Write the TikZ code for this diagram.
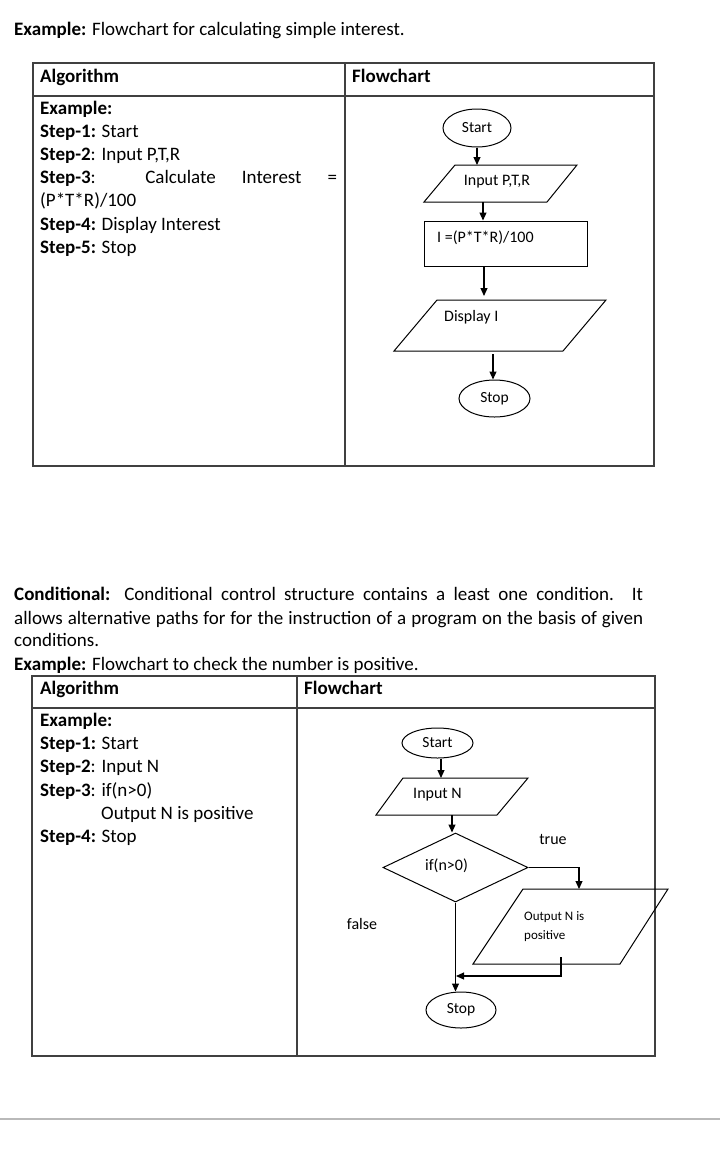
\documentclass[tikz,border=0pt]{standalone}
\usepackage{fontspec}
\setmainfont{Carlito}
\usetikzlibrary{arrows.meta,shapes.geometric}
\begin{document}
\begin{tikzpicture}[x=1pt,y=-1pt,
  body/.style={anchor=base west,inner sep=0pt,font=\fontsize{19}{23}\selectfont},
  fc/.style={inner sep=0pt,font=\fontsize{16}{18}\selectfont},
  shp/.style={draw,line width=1pt},
  oval/.style={shp,ellipse,inner sep=0pt,font=\fontsize{15.5}{18}\selectfont},
  arr/.style={-{Triangle[length=8pt,width=7pt]},line width=1.1pt},
  tbl/.style={draw=black!75,line width=1.2pt}]
\useasboundingbox (0,0) rectangle (720,1152);
\fill[white] (0,0) rectangle (720,1152);

% ---------- title ----------
\node[body] (t1) at (14,35) {\textbf{Example:} Flowchart for calculating simple interest.};

% ---------- top table ----------
\draw[tbl] (33,63) rectangle (654,466);
\draw[tbl] (33,96) -- (654,96);
\draw[tbl] (345,63) -- (345,466);
\node[body] (h1) at (40,82) {\textbf{Algorithm}};
\node[body] (h2) at (352,82) {\textbf{Flowchart}};
\node[body] (a0) at (40,114.5) {\textbf{Example:}};
\node[body] (a1) at (40,137.6) {\textbf{Step-1:} Start};
\node[body] (a2) at (40,160.7) {\textbf{Step-2}: Input P,T,R};
\node[body] (a3) at (40,183.8) {\makebox[297pt][s]{\textbf{Step-3}: Calculate Interest =}};
\node[body] (a3b) at (40,206.9) {(P*T*R)/100};
\node[body] (a4) at (40,230) {\textbf{Step-4:} Display Interest};
\node[body] (a5) at (40,253.1) {\textbf{Step-5:} Stop};

% top flowchart
\node[oval,minimum width=68pt,minimum height=38pt] (s1) at (477,128) {Start};
\draw[shp] (455,165) -- (577,165) -- (547,202) -- (424,202) -- cycle;
\coordinate (in1n) at (477,165);
\coordinate (in1s) at (483,202);
\node[fc] (in1t) at (497,182) {Input P,T,R};
\node[shp,minimum width=163pt,minimum height=45pt,inner sep=0pt] (r1) at (505.5,243.5) {};
\node[fc,anchor=west] (r1t) at (437,238) {I =(P*T*R)/100};
\draw[shp] (437,300) -- (606,300) -- (563,351) -- (394,351) -- cycle;
\coordinate (d1n) at (484,296);
\coordinate (d1s) at (493,354);
\node[fc,anchor=west] (d1t) at (444,317) {Display I};
\node[oval,minimum width=71pt,minimum height=37pt] (e1) at (494.5,398.5) {Stop};

\draw[arr] (s1.south) -- (in1n);
\draw[arr] (in1s) -- (in1s |- r1.north);
\draw[arr] (r1.south -| d1n) -- (d1n);
\draw[arr] (d1s) -- (d1s |- e1.north);

% ---------- paragraph ----------
\node[body] (p1) at (14,600.7) {\makebox[629pt][s]{\textbf{Conditional:} Conditional control structure contains a least one condition. It}};
\node[body] (p2) at (14,624) {\makebox[629pt][s]{allows alternative paths for for the instruction of a program on the basis of given}};
\node[body] (p3) at (14,646.7) {conditions.};
\node[body] (p4) at (14,670) {\textbf{Example:} Flowchart to check the number is positive.};

% ---------- bottom table ----------
\draw[tbl] (32,676) rectangle (655,1056);
\draw[tbl] (32,708) -- (655,708);
\draw[tbl] (297,676) -- (297,1056);
\node[body] (h3) at (40,694) {\textbf{Algorithm}};
\node[body] (h4) at (304,694) {\textbf{Flowchart}};
\node[body] (b0) at (40,726.7) {\textbf{Example:}};
\node[body] (b1) at (40,749.6) {\textbf{Step-1:} Start};
\node[body] (b2) at (40,772.8) {\textbf{Step-2}: Input N};
\node[body] (b3) at (40,796) {\textbf{Step-3}: if(n>0)};
\node[body] (b3b) at (101,819.3) {Output N is positive};
\node[body] (b4) at (40,842.5) {\textbf{Step-4:} Stop};

% bottom flowchart
\node[oval,minimum width=71pt,minimum height=30pt] (s2) at (437.5,743) {Start};
\draw[shp] (403,778) -- (528,778) -- (497,815) -- (376,815) -- cycle;
\coordinate (in2n) at (441,778);
\coordinate (in2s) at (452,815);
\node[fc] (in2t) at (437.5,795) {Input N};
\node[shp,diamond,minimum width=145pt,minimum height=69pt,inner sep=0pt] (dm) at (455.5,867.5) {};
\node[fc] (dmt) at (446.5,866) {if(n>0)};
\node[fc] (tl) at (553,839) {true};
\node[fc] (fl) at (362,924) {false};
\draw[shp] (523,889) -- (668,889) -- (620,964) -- (473,964) -- cycle;
\coordinate (outn) at (579,889);
\coordinate (outs) at (561,957);
\node[inner sep=0pt,anchor=north west,align=left,font=\fontsize{13}{19}\selectfont] (outt) at (524,911) {Output N is\\positive};
\node[oval,minimum width=70pt,minimum height=36pt] (e2) at (461,1010) {Stop};
\coordinate (mg) at (456,976);

\draw[arr] (s2.south -| in2n) -- (in2n);
\draw[arr] (in2s) -- (in2s |- dm.north);
\draw[arr] (dm.east) -| (outn);
\draw[arr] (dm.south) -- (dm.south |- e2.north);
\draw[arr] (outs) |- (mg);

% ---------- bottom rule ----------
\draw[gray!55,line width=2.5pt] (0,1119) -- (720,1119);
\end{tikzpicture}
\end{document}
